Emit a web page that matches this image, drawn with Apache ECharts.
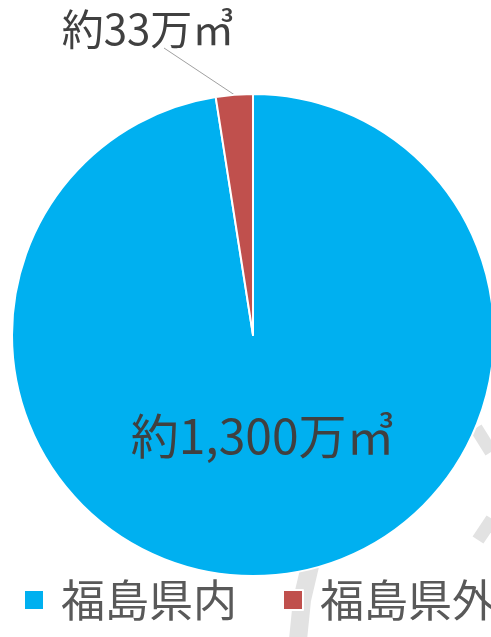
<!DOCTYPE html>
<html>
<head>
<meta charset="utf-8">
<script src="https://cdn.jsdelivr.net/npm/echarts@6/dist/echarts.min.js"></script>
<style>
html,body{margin:0;padding:0;background:#fff;}
#chart{width:491px;height:637px;}
</style>
</head>
<body>
<div id="chart"></div>
<script>
var categories = ['福島県内', '福島県外'];
var values = [1300, 33];
var labelTexts = ['約1,300万㎥', '約33万㎥'];
var colors = ['#00B0F0', '#C0504D'];

var chart = echarts.init(document.getElementById('chart'), null, {renderer: 'canvas'});
var FONT = '"Noto Sans CJK JP", "Noto Sans", sans-serif';

var data = categories.map(function (c, i) {
  return {
    name: c,
    value: values[i],
    itemStyle: {color: colors[i]},
    label: i === 0 ? {
      position: 'inside',
      fontSize: 48,
      color: '#404040'
    } : {
      position: 'outside',
      fontSize: 42,
      color: '#404040'
    },
    labelLine: {show: i === 1, length: 5, length2: 5, lineStyle: {color: '#a0a0a0', width: 1}}
  };
});

chart.setOption({
  animation: false,
  backgroundColor: '#fff',
  graphic: [
    {type: 'polyline', z: 0, shape: {points: [[476, 428], [491, 452]]}, style: {stroke: '#e2e2e2', lineWidth: 13, fill: null}},
    {type: 'polyline', z: 0, shape: {points: [[478, 540], [492, 519]]}, style: {stroke: '#e2e2e2', lineWidth: 13, fill: null}},
    {type: 'polyline', z: 0, shape: {points: [[310, 566], [302, 600], [298, 640]]}, style: {stroke: '#e2e2e2', lineWidth: 18, fill: null}}
  ],
  legend: {
    data: categories,
    left: 23,
    top: 578,
    width: 700,
    padding: 0,
    itemWidth: 20,
    itemHeight: 20,
    itemGap: 45,
    icon: 'rect',
    textStyle: {fontSize: 44, color: '#595959', fontFamily: FONT, padding: [14, 0, 0, 12]}
  },
  series: [{
    type: 'pie',
    center: [253, 335],
    radius: 241,
    startAngle: 90,
    clockwise: true,
    z: 2,
    itemStyle: {borderColor: '#fff', borderWidth: 2},
    label: {
      show: true,
      fontFamily: FONT,
      formatter: function (p) { return labelTexts[p.dataIndex]; }
    },
    labelLayout: function (p) {
      if (p.dataIndex === 0) {
        return {dy: -22};
      }
      var start = p.labelLinePoints ? p.labelLinePoints[0] : [234, 95];
      var end = [164, 48];
      return {
        x: 148,
        y: 29,
        align: 'center',
        verticalAlign: 'middle',
        labelLinePoints: [start, [(start[0] + end[0]) / 2, (start[1] + end[1]) / 2], end]
      };
    },
    emphasis: {disabled: true},
    data: data
  }]
});
</script>
</body>
</html>
